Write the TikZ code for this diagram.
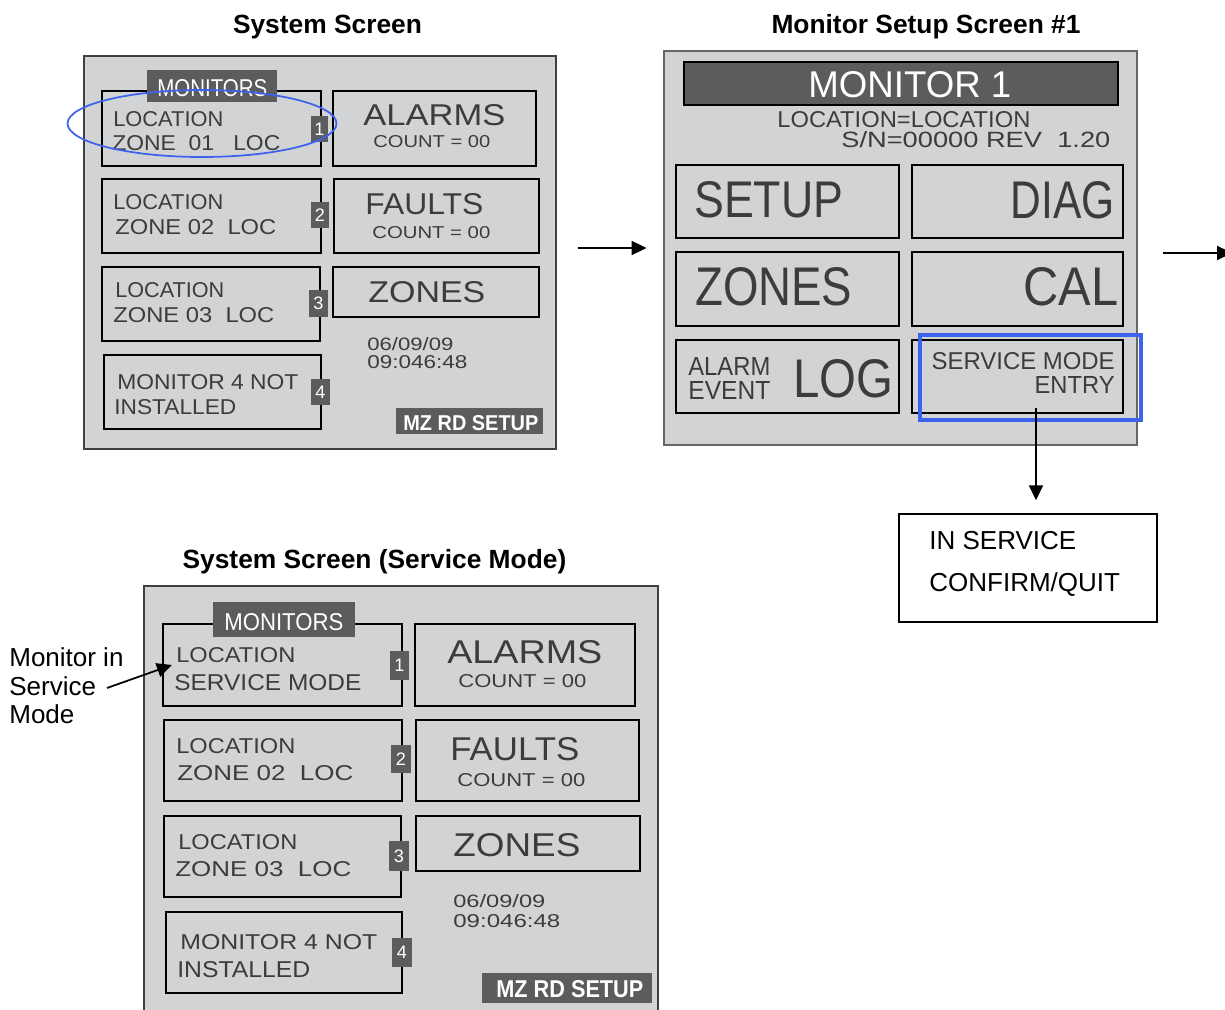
\documentclass[tikz,border=0pt]{standalone}
\usepackage{fontspec}
\setmainfont{Liberation Sans}
\usepackage{graphicx}
\usetikzlibrary{fit,arrows.meta}

\newlength{\pxu}
\setlength{\pxu}{0.02cm}

\definecolor{lcdbg}{HTML}{D2D3D5}
\definecolor{lcddark}{HTML}{5B5C5E}
\definecolor{lcdtext}{HTML}{3C3C3C}
\definecolor{selblue}{HTML}{3D63EC}

\begin{document}
\begin{tikzpicture}[x=0.02cm, y=-0.02cm,
  screen/.style={draw=black!75, line width=0.7pt, fill=lcdbg, inner sep=0pt},
  zonebox/.style={draw=black, line width=1.3pt, inner sep=0pt},
  button/.style={draw=black, line width=0.75pt, inner sep=0pt},
  darkbar/.style={fill=lcddark, inner sep=0pt},
  numtag/.style={fill=lcddark, text=white, inner sep=0pt, font=\fontsize{10.3}{12}\selectfont},
  lcd/.style={inner sep=0pt, anchor=base west, text=lcdtext},
  lcdr/.style={lcd, anchor=base east},
  scrtitle/.style={font=\bfseries\fontsize{15}{18}\selectfont, anchor=base, inner sep=0pt},
  note/.style={font=\fontsize{14.8}{16.4}\selectfont, inner sep=0pt, align=left, anchor=north west},
  arr/.style={-{Triangle[length=8.5pt,width=8pt]}, line width=1pt},
]

\def\lcd#1#2#3{\resizebox{#1\pxu}{#2\pxu}{#3}}

\useasboundingbox (0,0) rectangle (1225,1010);
\clip (0,0) rectangle (1225,1010);

% System Screen
\node[scrtitle] (systitle) at (327.5,34) {System Screen};
\node[screen, fit={(84,56) (556,449)}] (sys) {};
\node[zonebox, fit={(102,91) (321,166)}] (sz1) {};
\node[zonebox, fit={(102,179) (321,253)}] (sz2) {};
\node[zonebox, fit={(102,267) (320,341)}] (sz3) {};
\node[zonebox, fit={(104,355) (321,429)}] (sz4) {};
\node[zonebox, fit={(333,91) (536,166)}] (salm) {};
\node[zonebox, fit={(334,179) (539,253)}] (sflt) {};
\node[zonebox, fit={(333,267) (539,317)}] (szon) {};
\node[darkbar, fit={(147,70) (277,102)}] (stab) {};
\node[lcd, text=white] (stabt) at (157,97) {\lcd{110}{17}{MONITORS}};

\node[lcd] (sz1a) at (113,127) {\lcd{110}{15}{LOCATION}};
\node[lcd] (sz1b) at (112,151) {\lcd{168}{15}{ZONE~~01~~~LOC}};
\node[lcd] (sz2a) at (113,210) {\lcd{110}{15}{LOCATION}};
\node[lcd] (sz2b) at (115,235) {\lcd{161}{15}{ZONE 02~~LOC}};
\node[lcd] (sz3a) at (115,298) {\lcd{109}{15}{LOCATION}};
\node[lcd] (sz3b) at (113,323) {\lcd{161}{15}{ZONE 03~~LOC}};
\node[lcd] (sz4a) at (117,390) {\lcd{181}{15}{MONITOR 4 NOT}};
\node[lcd] (sz4b) at (114,415) {\lcd{122}{15}{INSTALLED}};

\node[lcd] (salma) at (363,126) {\lcd{142}{21}{ALARMS}};
\node[lcd] (salmb) at (373,148) {\lcd{117}{12}{COUNT = 00}};
\node[lcd] (sflta) at (365,215) {\lcd{118}{21}{FAULTS}};
\node[lcd] (sfltb) at (372,239) {\lcd{118}{12}{COUNT = 00}};
\node[lcd] (szona) at (368,303) {\lcd{117}{21}{ZONES}};
\node[lcd] (sdate) at (367,351) {\lcd{86}{13}{06/09/09}};
\node[lcd] (stime) at (367,369) {\lcd{100}{13}{09:046:48}};

\node[darkbar, fit={(396,408) (543,434)}] (ssetup) {};
\node[lcd, text=white, font=\bfseries] (ssetupt) at (403,431) {\lcd{135}{15}{MZ RD SETUP}};

\foreach \n/\cx/\cy/\w/\h in {1/319.5/129/17/26, 2/320/215/18/26, 3/318.5/303.5/19/27, 4/320.5/392/19/26}
  \node[numtag, minimum width=\w\pxu, minimum height=\h\pxu] (stag\n) at (\cx,\cy) {\n};

\draw[selblue, line width=1pt] (202,123.5) ellipse [x radius=134.5\pxu, y radius=33.5\pxu];

% Monitor Setup Screen #1
\node[scrtitle] (montitle) at (926,34) {Monitor Setup Screen \#1};
\node[screen, draw=black!60, fit={(664,51) (1137,445)}] (mon) {};
\node[darkbar, draw=black, line width=0.6pt, fit={(684,62) (1118,105)}] (mbar) {};
\node[lcd, text=white] (mbart) at (808,98) {\lcd{203}{26}{MONITOR 1}};
\node[lcd] (mloc) at (777,128) {\lcd{253}{16}{LOCATION=LOCATION}};
\node[lcd] (msn) at (841,148) {\lcd{269}{16}{S/N=00000 REV~~1.20}};

\node[button, fit={(676,165) (899,238)}] (msetup) {};
\node[button, fit={(912,165) (1123,238)}] (mdiag) {};
\node[button, fit={(676,252) (899,326)}] (mzones) {};
\node[button, fit={(912,252) (1123,326)}] (mcal) {};
\node[button, fit={(676,340) (899,413)}] (mlog) {};
\node[button, fit={(912,340) (1123,413)}] (msvc) {};

\node[lcd] (msetupt) at (694,218) {\lcd{149}{36}{SETUP}};
\node[lcdr] (mdiagt) at (1115,219) {\lcd{104}{37}{DIAG}};
\node[lcd] (mzonest) at (695,306) {\lcd{157}{38}{ZONES}};
\node[lcdr] (mcalt) at (1119,306) {\lcd{95}{38}{CAL}};
\node[lcd] (mloga) at (688,376) {\lcd{82}{18}{ALARM}};
\node[lcd] (mlogb) at (688,399) {\lcd{82}{18}{EVENT}};
\node[lcd] (mlogc) at (793,398) {\lcd{100}{38}{LOG}};
\node[lcdr] (msvca) at (1115,370) {\lcd{183}{17}{SERVICE MODE}};
\node[lcdr] (msvcb) at (1115,394) {\lcd{80}{17}{ENTRY}};

\node[draw=selblue, line width=2pt, inner sep=0pt, fit={(920,335) (1141,420)}] (msel) {};

% confirm box
\coordinate (svcdrop) at (1036,408);
\node[draw=black, line width=0.85pt, inner sep=0pt, fit={(899,514) (1157,622)}] (insvc) {};
\node[note, font=\fontsize{14.8}{23.8}\selectfont] (insvct) at (929,531) {IN SERVICE\\CONFIRM/QUIT};
\draw[arr, shorten >=7.4pt] (svcdrop) -- (svcdrop |- insvc.north);

\draw[arr, shorten <=11.9pt, shorten >=9.6pt] (sys.east |- mon.west) -- (mon.west);
\coordinate (nextscr) at (1232,253);
\draw[arr, shorten <=14.7pt] (mon.east |- nextscr) -- (nextscr);

% System Screen (Service Mode)
\node[scrtitle] (srvtitle) at (374.5,568) {System Screen (Service Mode)};
\node[screen, fit={(144,586) (658,1015)}] (srv) {};
\node[zonebox, fit={(163,624) (402,706)}] (vz1) {};
\node[zonebox, fit={(164,720) (402,801)}] (vz2) {};
\node[zonebox, fit={(164,816) (401,897)}] (vz3) {};
\node[zonebox, fit={(166,912) (402,993)}] (vz4) {};
\node[zonebox, fit={(415,624) (635,706)}] (valm) {};
\node[zonebox, fit={(416,720) (639,801)}] (vflt) {};
\node[zonebox, fit={(416,816) (640,871)}] (vzon) {};
\node[darkbar, fit={(213,602) (355,637)}] (vtab) {};
\node[lcd, text=white] (vtabt) at (224,630) {\lcd{119}{17}{MONITORS}};

\node[lcd] (vz1a) at (176,663) {\lcd{119}{15}{LOCATION}};
\node[lcd] (vz1b) at (174,690) {\lcd{187}{16}{SERVICE MODE}};
\node[lcd] (vz2a) at (176,753) {\lcd{119}{15}{LOCATION}};
\node[lcd] (vz2b) at (177,780) {\lcd{176}{15}{ZONE 02~~LOC}};
\node[lcd] (vz3a) at (178,849) {\lcd{119}{15}{LOCATION}};
\node[lcd] (vz3b) at (175,876) {\lcd{176}{15}{ZONE 03~~LOC}};
\node[lcd] (vz4a) at (180,949) {\lcd{197}{15}{MONITOR 4 NOT}};
\node[lcd] (vz4b) at (177,977) {\lcd{133}{16}{INSTALLED}};

\node[lcd] (valma) at (447,663) {\lcd{155}{23}{ALARMS}};
\node[lcd] (valmb) at (458,687) {\lcd{128}{13}{COUNT = 00}};
\node[lcd] (vflta) at (450,760) {\lcd{129}{23}{FAULTS}};
\node[lcd] (vfltb) at (457,786) {\lcd{128}{13}{COUNT = 00}};
\node[lcd] (vzona) at (453,856) {\lcd{127}{23}{ZONES}};
\node[lcd] (vdate) at (453,907) {\lcd{92}{13}{06/09/09}};
\node[lcd] (vtime) at (453,927) {\lcd{107}{13}{09:046:48}};

\node[darkbar, fit={(482,973) (652,1003)}] (vsetup) {};
\node[lcd, text=white, font=\bfseries] (vsetupt) at (496,997) {\lcd{147}{17}{MZ RD SETUP}};

\foreach \n/\cx/\cy/\w/\h in {1/399.5/665.5/19/29, 2/401/759/20/28, 3/399/856/20/30, 4/402/952.5/20/29}
  \node[numtag, minimum width=\w\pxu, minimum height=\h\pxu] (vtag\n) at (\cx,\cy) {\n};

\node[note] (srvlabel) at (9,647) {Monitor in\\Service\\Mode};
\coordinate (srvlabelarr) at (107,688);
\draw[arr] (srvlabelarr) -- ([xshift=5.7pt]vz1.west);

\end{tikzpicture}
\end{document}
